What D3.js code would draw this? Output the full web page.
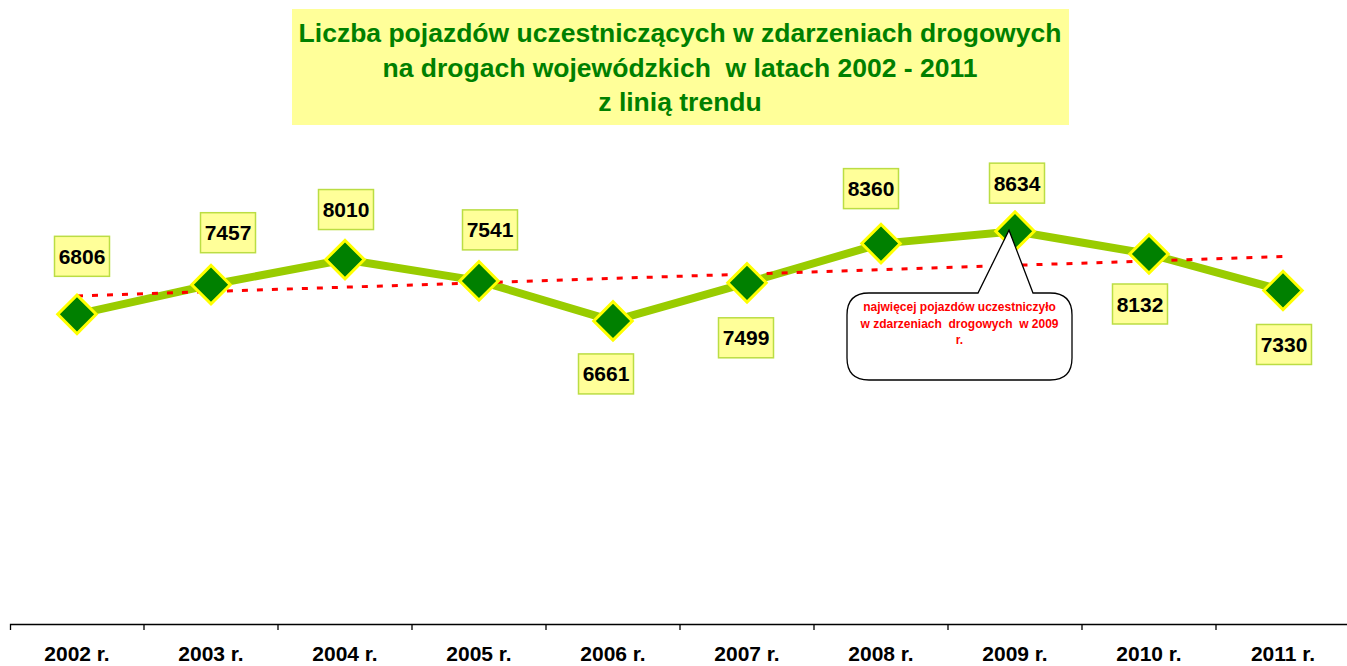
<!DOCTYPE html>
<html>
<head>
<meta charset="utf-8">
<script src="https://cdn.jsdelivr.net/npm/d3@7"></script>
<style>
  body { margin: 0; background: #fff; }
  svg { display: block; font-family: Arial, "Liberation Sans", sans-serif; }
</style>
</head>
<body>
<div class="chart"></div>
<script>
// data
var years = ["2002 r.", "2003 r.", "2004 r.", "2005 r.", "2006 r.", "2007 r.", "2008 r.", "2009 r.", "2010 r.", "2011 r."];
var vehicles = [6806, 7457, 8010, 7541, 6661, 7499, 8360, 8634, 8132, 7330];
var titleLines = ["Liczba pojazdów uczestniczących w zdarzeniach drogowych", "na drogach wojewódzkich  w latach 2002 - 2011", "z linią trendu"];
var calloutLines = ["najwięcej pojazdów uczestniczyło", "w zdarzeniach  drogowych  w 2009", "r."];

// label placement (px offsets from the point)
var labelOffset = [[5, -58], [17, -52], [1, -50], [11, -51], [-7, 53], [-1, 55], [-10, -55], [2, -48], [-9, 50], [1, 54]];

var w = 1347;
var h = 666;

var svg = d3.select(".chart")
            .append("svg")
            .attr("width", w)
            .attr("height", h);

// title
svg.append("rect")
   .attr("x", 292).attr("y", 9)
   .attr("width", 777).attr("height", 116)
   .attr("fill", "#FFFF99");

svg.selectAll("text.title")
   .data(titleLines)
   .enter()
   .append("text")
   .attr("class", "title")
   .attr("x", 680)
   .attr("y", (d, i) => 33 + i * 34.5)
   .attr("dy", "0.35em")
   .attr("text-anchor", "middle")
   .attr("fill", "#008000")
   .style("font-weight", "bold")
   .style("font-size", "26.5px")
   .style("white-space", "pre")
   .text(d => d);

// scales
var xScale = d3.scaleBand()
   .domain(years)
   .range([10, 1350])
   .padding(0);

var yScale = d3.scaleLinear()
   .domain([0, 10000])
   .range([624, 169]);

var cx = (d, i) => xScale(years[i]) + xScale.bandwidth() / 2;

// axis
var axis = svg.append("g")
   .attr("transform", "translate(0,624)")
   .call(d3.axisBottom(xScale).tickSizeInner(0).tickSizeOuter(6).tickPadding(22));
axis.select(".domain").attr("stroke", "#000").attr("stroke-width", 1.3);
axis.selectAll("text")
   .style("font-size", "21px")
   .style("font-weight", "bold")
   .style("font-family", "Arial, 'Liberation Sans', sans-serif")
   .attr("fill", "#000");

axis.selectAll("line.bound")
   .data(years.slice(1))
   .enter()
   .append("line")
   .attr("class", "bound")
   .attr("x1", d => xScale(d)).attr("x2", d => xScale(d))
   .attr("y1", 0).attr("y2", 6)
   .attr("stroke", "#000").attr("stroke-width", 1.3);

// linear trend (least squares over the series)
var n = vehicles.length;
var mx = d3.mean(vehicles, (d, i) => i);
var my = d3.mean(vehicles);
var slope = d3.sum(vehicles, (d, i) => (i - mx) * (d - my)) / d3.sum(vehicles, (d, i) => (i - mx) * (i - mx));
var trend = [0, n - 1].map(i => [i, my + slope * (i - mx)]);

// series line
var line = d3.line()
   .x(d => cx(d, d.i))
   .y(d => yScale(d.v));
var pts = vehicles.map((v, i) => ({v: v, i: i}));

svg.append("path")
   .datum(pts)
   .attr("d", line)
   .attr("fill", "none")
   .attr("stroke", "#99CC00")
   .attr("stroke-width", 8)
   .attr("stroke-linejoin", "round");

svg.append("line")
   .attr("x1", cx(null, trend[0][0])).attr("y1", yScale(trend[0][1]))
   .attr("x2", cx(null, trend[1][0])).attr("y2", yScale(trend[1][1]))
   .attr("stroke", "#FF0000")
   .attr("stroke-width", 3)
   .attr("stroke-dasharray", "6,9");

// markers
svg.selectAll("path.marker")
   .data(pts)
   .enter()
   .append("path")
   .attr("class", "marker")
   .attr("d", d3.symbol().type(d3.symbolSquare).size(740))
   .attr("transform", d => "translate(" + cx(d, d.i) + "," + yScale(d.v) + ") rotate(45)")
   .attr("fill", "#008000")
   .attr("stroke", "#FFFF00")
   .attr("stroke-width", 3);

// value labels
var labels = svg.selectAll("g.label")
   .data(pts)
   .enter()
   .append("g")
   .attr("class", "label")
   .attr("transform", d => "translate(" + (cx(d, d.i) + labelOffset[d.i][0]) + "," + (yScale(d.v) + labelOffset[d.i][1]) + ")");

labels.append("rect")
   .attr("x", -27.5).attr("y", -20)
   .attr("width", 55).attr("height", 40)
   .attr("fill", "#FFFF99")
   .attr("stroke", "#BBDD44")
   .attr("stroke-width", 1.5);

labels.append("text")
   .attr("text-anchor", "middle")
   .attr("dy", "0.36em")
   .style("font-size", "21px")
   .style("font-weight", "bold")
   .text(d => d.v);

// callout for the maximum
var iMax = d3.maxIndex(vehicles);
var tipX = cx(null, iMax) - 6;
var tipY = yScale(vehicles[iMax]) - 1;
var bx0 = 847, bx1 = 1072, by0 = 293, by1 = 380, r = 22;
var p = d3.path();
p.moveTo(bx0 + r, by0);
p.lineTo(978, by0);
p.lineTo(tipX, tipY);
p.lineTo(1033, by0);
p.lineTo(bx1 - r, by0);
p.quadraticCurveTo(bx1, by0, bx1, by0 + r);
p.lineTo(bx1, by1 - r);
p.quadraticCurveTo(bx1, by1, bx1 - r, by1);
p.lineTo(bx0 + r, by1);
p.quadraticCurveTo(bx0, by1, bx0, by1 - r);
p.lineTo(bx0, by0 + r);
p.quadraticCurveTo(bx0, by0, bx0 + r, by0);
p.closePath();

svg.append("path")
   .attr("d", p.toString())
   .attr("fill", "#fff")
   .attr("stroke", "#000")
   .attr("stroke-width", 1.3);

svg.selectAll("text.callout")
   .data(calloutLines)
   .enter()
   .append("text")
   .attr("class", "callout")
   .attr("x", (bx0 + bx1) / 2)
   .attr("y", (d, i) => 307 + i * 16.5)
   .attr("dy", "0.35em")
   .attr("text-anchor", "middle")
   .attr("fill", "#FF0000")
   .style("font-size", "12px")
   .style("font-weight", "bold")
   .style("white-space", "pre")
   .text(d => d);
</script>
</body>
</html>
